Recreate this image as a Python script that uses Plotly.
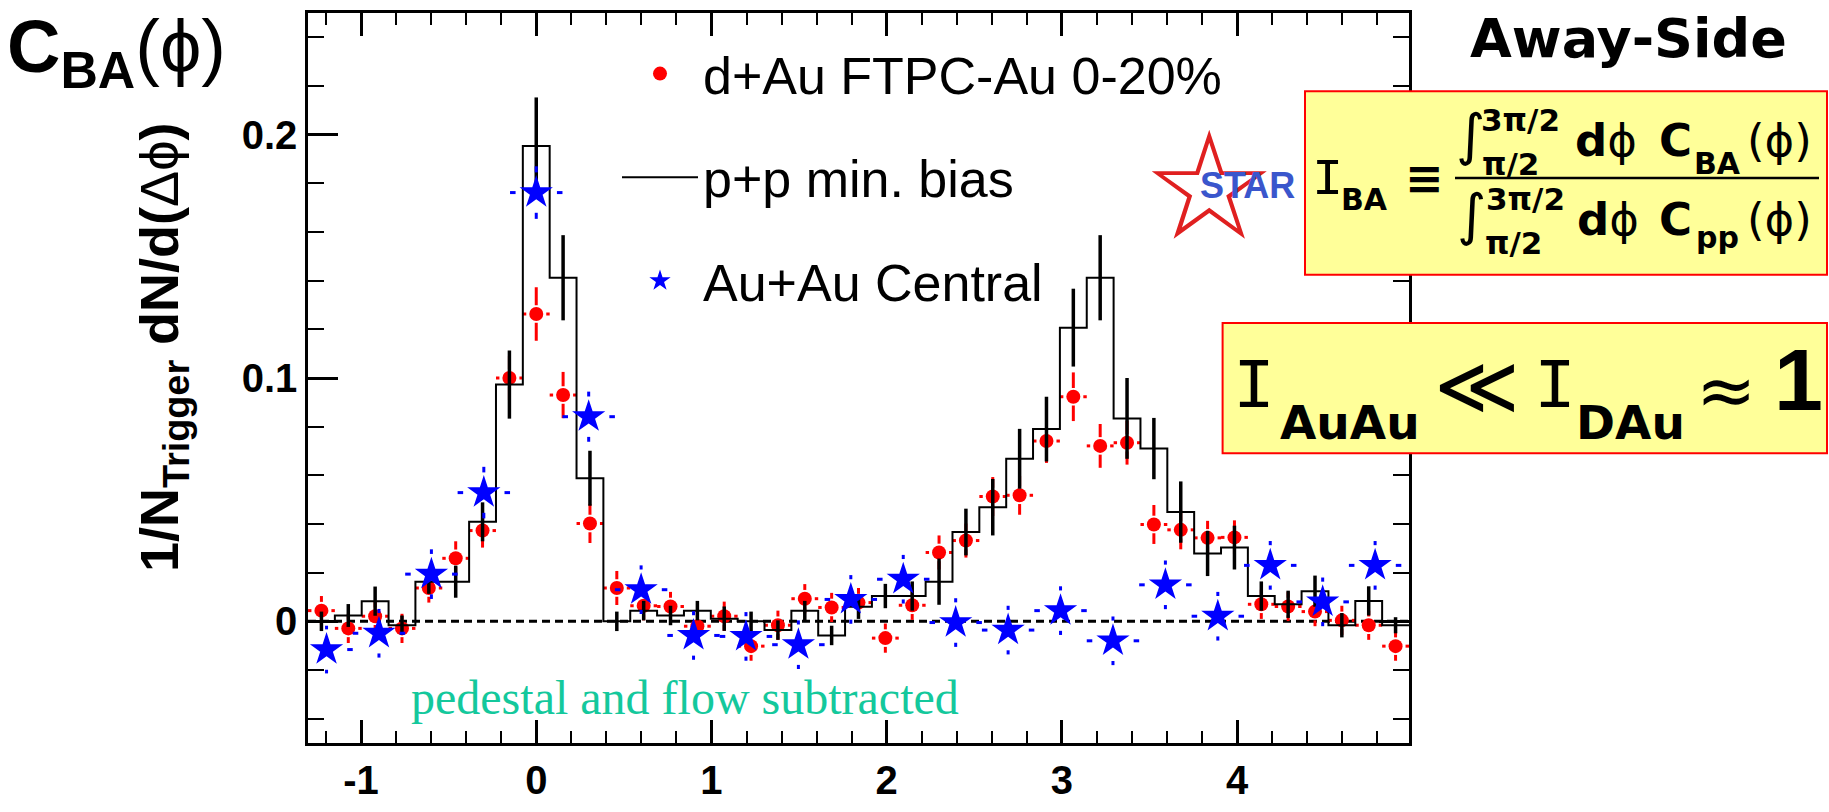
import numpy as np
import plotly.graph_objects as go

# ---------------- data ----------------
# d+Au FTPC-Au 0-20% (41 bins of width 2pi/41)
dau_phi = [-1.2260, -1.0727, -0.9195, -0.7662, -0.6130, -0.4597, -0.3065, -0.1532,
           0.0000, 0.1532, 0.3065, 0.4597, 0.6130, 0.7662, 0.9195, 1.0727,
           1.2260, 1.3792, 1.5325, 1.6857, 1.8390, 1.9922, 2.1455, 2.2987,
           2.4520, 2.6052, 2.7585, 2.9117, 3.0650, 3.2182, 3.3715, 3.5247,
           3.6780, 3.8312, 3.9845, 4.1377, 4.2909, 4.4442, 4.5974, 4.7507, 4.9039]
dau_y = [0.0044, -0.0029, 0.0021, -0.0029, 0.0137, 0.0259, 0.0373, 0.1000,
         0.1263, 0.0930, 0.0402, 0.0137, 0.0064, 0.0061, -0.0020, 0.0021,
         -0.0102, -0.0016, 0.0093, 0.0057, 0.0077, -0.0069, 0.0066, 0.0283,
         0.0332, 0.0513, 0.0518, 0.0741, 0.0923, 0.0721, 0.0734, 0.0398,
         0.0376, 0.0343, 0.0345, 0.0070, 0.0061, 0.0040, 0.0004, -0.0016, -0.0102]
dau_err = [0.006, 0.006, 0.006, 0.006, 0.006, 0.007, 0.007, 0.009,
           0.011, 0.0095, 0.008, 0.007, 0.006, 0.006, 0.006, 0.006,
           0.006, 0.006, 0.006, 0.006, 0.006, 0.006, 0.006, 0.007,
           0.007, 0.008, 0.008, 0.009, 0.010, 0.009, 0.009, 0.008,
           0.008, 0.007, 0.007, 0.006, 0.006, 0.006, 0.006, 0.006, 0.006]
dau_halfbin = 0.0766

# p+p min. bias histogram (same binning as d+Au)
pp_y = [0.0000, 0.0024, 0.0083, -0.0016, 0.0163, 0.0163, 0.0409, 0.0973,
        0.1953, 0.1412, 0.0588, 0.0000, 0.0044, 0.0024, 0.0044, 0.0011,
        0.0000, -0.0036, 0.0044, -0.0058, 0.0060, 0.0104, 0.0104, 0.0163,
        0.0367, 0.0469, 0.0668, 0.0790, 0.1207, 0.1412, 0.0834, 0.0710,
        0.0449, 0.0279, 0.0303, 0.0104, 0.0070, 0.0124, -0.0016, 0.0084, -0.0016]
pp_err = [0.004, 0.0047, 0.006, 0.004, 0.005, 0.0066, 0.008, 0.014,
          0.020, 0.0175, 0.0113, 0.004, 0.004, 0.004, 0.004, 0.005,
          0.004, 0.004, 0.004, 0.004, 0.005, 0.005, 0.006, 0.0095,
          0.0096, 0.0116, 0.0123, 0.0133, 0.016, 0.0175, 0.0166, 0.0126,
          0.0126, 0.0093, 0.009, 0.006, 0.0056, 0.0064, 0.005, 0.006, 0.0033]

# Au+Au central (21 bins of width 2pi/21)
auau_phi = [-1.1968, -0.8976, -0.5984, -0.2992, 0.0000, 0.2992, 0.5984, 0.8976,
            1.1968, 1.4960, 1.7952, 2.0944, 2.3936, 2.6928, 2.9920, 3.2912,
            3.5904, 3.8896, 4.1888, 4.4880, 4.7872]
auau_y = [-0.0116, -0.0049, 0.0194, 0.0529, 0.1762, 0.0841, 0.0130, -0.0058,
          -0.0062, -0.0096, 0.0090, 0.0173, -0.0005, -0.0036, 0.0044, -0.0080,
          0.0150, 0.0021, 0.0230, 0.0080, 0.0230]
auau_err = [0.0098, 0.0100, 0.0102, 0.0106, 0.0108, 0.0103, 0.0100, 0.0100,
            0.0100, 0.0100, 0.0100, 0.0100, 0.0100, 0.0100, 0.0100, 0.0100,
            0.0100, 0.0100, 0.0100, 0.0100, 0.0100]
auau_halfbin = 0.1496

x_tickvals = [-1, 0, 1, 2, 3, 4]
x_ticktext = ["-1", "0", "1", "2", "3", "4"]
y_tickvals = [0, 0.1, 0.2]
y_ticktext = ["0", "0.1", "0.2"]
x_range = [-1.3026, 4.9806]
y_range = [-0.05, 0.25]

# ---------------- geometry helpers ----------------
W, H = 1829, 812
ML, MR, MT, MB = 308, 420, 10, 46
PW, PH = W - ML - MR, H - MT - MB


def px(x):
    return (x - ML) / PW


def py(y):
    return (H - MB - y) / PH


def gapped_segments(xs, ys, ex, ey, gx, gy):
    """error-bar pieces drawn from the outer end toward the point, stopping at a gap"""
    sx, sy = [], []
    for x, y, e1, e2 in zip(xs, ys, ex, ey):
        if e1 > gx:
            sx += [x - e1, x - gx, None, x + e1, x + gx, None]
            sy += [y, y, None, y, y, None]
        if e2 > gy:
            sx += [x, x, None, x, x, None]
            sy += [y - e2, y - gy, None, y + e2, y + gy, None]
    return sx, sy


fig = go.Figure()

# red error bars + markers
rx, ry = gapped_segments(dau_phi, dau_y, [dau_halfbin] * len(dau_phi), dau_err, 0.057, 0.0036)
fig.add_trace(go.Scatter(x=rx, y=ry, mode="lines", line=dict(color="#ff0000", width=3),
                         showlegend=False, hoverinfo="skip", connectgaps=False))
fig.add_trace(go.Scatter(x=dau_phi, y=dau_y, mode="markers", name="d+Au FTPC-Au 0-20%",
                         legendgroup="a",
                         marker=dict(color="#ff0000", size=14, symbol="circle")))

# p+p histogram
hw = (x_range[1] - x_range[0]) / len(dau_phi) / 2
hx = [p - hw for p in dau_phi] + [dau_phi[-1] + hw]
hy = list(pp_y) + [pp_y[-1]]
fig.add_trace(go.Scatter(x=hx, y=hy, mode="lines", line_shape="hv", name="p+p min. bias",
                         legendgroup="b", line=dict(color="black", width=2)))
fig.add_trace(go.Scatter(x=dau_phi, y=pp_y, mode="markers", showlegend=False, hoverinfo="skip",
                         marker=dict(size=1, color="rgba(0,0,0,0)"),
                         error_y=dict(type="data", array=pp_err, thickness=3.5, width=0,
                                      color="black")))

# blue error bars + stars
bx, by = gapped_segments(auau_phi, auau_y, [auau_halfbin] * len(auau_phi), auau_err, 0.118, 0.0083)
fig.add_trace(go.Scatter(x=bx, y=by, mode="lines", line=dict(color="#0000ff", width=3),
                         showlegend=False, hoverinfo="skip", connectgaps=False))
fig.add_trace(go.Scatter(x=auau_phi, y=auau_y, mode="markers", name="Au+Au Central",
                         legendgroup="c",
                         marker=dict(color="#0000ff", size=25, symbol="star")))

axis_common = dict(showline=True, linewidth=2.5, linecolor="black", mirror="ticks",
                   showgrid=False, zeroline=False, ticks="inside", tickcolor="black",
                   tickwidth=2.5,
                   tickfont=dict(family="Liberation Sans", size=40, color="black", weight="bold"))

fig.update_layout(
    width=W, height=H,
    margin=dict(l=ML, r=MR, t=MT, b=MB, pad=0),
    paper_bgcolor="white", plot_bgcolor="white",
    xaxis=dict(range=x_range, tickmode="array", tickvals=x_tickvals, ticktext=x_ticktext,
               ticklen=23,
               minor=dict(dtick=0.2, tick0=0, ticks="inside", ticklen=12, tickwidth=2.2,
                          tickcolor="black"),
               **axis_common),
    yaxis=dict(range=y_range, tickmode="array", tickvals=y_tickvals, ticktext=y_ticktext,
               ticklen=30,
               minor=dict(dtick=0.02, tick0=0, ticks="inside", ticklen=16, tickwidth=2.2,
                          tickcolor="black"),
               **axis_common),
    showlegend=True,
    legend=dict(x=px(617), y=py(31), xanchor="left", yanchor="top",
                bgcolor="rgba(0,0,0,0)", borderwidth=0, itemwidth=76,
                traceorder="grouped", tracegroupgap=33,
                font=dict(family="Liberation Sans", size=52, color="black")),
)

# zero line
fig.add_shape(type="line", xref="paper", yref="y", x0=0, x1=1, y0=0, y1=0,
              line=dict(color="black", width=3, dash="8px,5px"), layer="below")

# yellow boxes and fraction bar
fig.add_shape(type="rect", xref="paper", yref="paper", x0=px(1305), x1=px(1827),
              y0=py(281), y1=py(91), fillcolor="#ffff99", line=dict(color="#ff0000", width=2),
              layer="above")
fig.add_shape(type="rect", xref="paper", yref="paper", x0=px(1222.6), x1=px(1827),
              y0=py(466), y1=py(331), fillcolor="#ffff99", line=dict(color="#ff0000", width=2),
              layer="above")
fig.add_shape(type="line", xref="paper", yref="paper", x0=px(1455), x1=px(1819),
              y0=py(181), y1=py(181), line=dict(color="black", width=2.5), layer="above")


def ann(text, x, y, size, family="Liberation Sans", color="black", xanchor="center",
        yanchor="middle", angle=0, weight="normal"):
    fig.add_annotation(text=text, x=px(x), y=py(y), xref="paper", yref="paper",
                       showarrow=False, xanchor=xanchor, yanchor=yanchor, textangle=angle,
                       borderpad=0,
                       font=dict(family=family, size=size, color=color, weight=weight))


SANS = "Liberation Sans, DejaVu Sans"
ann("<b>C<sub>BA</sub></b>(ϕ)", 6, 50, 74, family=SANS, xanchor="left")
ann("<b>1/N<sub>Trigger</sub> dN/d(</b>Δϕ<b>)</b>", 163, 357, 54, family=SANS, angle=-90)
ann("Away-Side", 1628, 36, 54, family="DejaVu Sans", weight="bold")
ann("pedestal and flow subtracted", 410, 719, 48, family="Liberation Serif",
    color="#14c89c", xanchor="left")

# STAR logo
ann("☆", 1209, 189, 150, family="DejaVu Sans", color="#e02020", weight="bold")
ann("STAR", 1247, 189, 36, color="#3a56cc", weight="bold")

# formula box 1
ann("I", 1327.5, 183, 52, family="Liberation Mono")
ann("BA", 1364, 203, 30, family="DejaVu Sans", weight="bold")
ann("≡", 1424, 181, 46, family="DejaVu Sans", weight="bold")
ann("∫", 1470, 136, 56, family="DejaVu Sans")
ann("3π/2", 1520, 121, 31, family="DejaVu Sans", weight="bold")
ann("π/2", 1510, 166, 31, family="DejaVu Sans", weight="bold")
ann("<b>d</b>ϕ", 1574, 142, 45, family="DejaVu Sans", xanchor="left")
ann("C", 1693, 142, 45, family="DejaVu Sans", weight="bold", xanchor="right")
ann("BA", 1693, 166, 30, family="DejaVu Sans", weight="bold", xanchor="left")
ann("(ϕ)", 1746, 142, 45, family="DejaVu Sans", xanchor="left")
ann("∫", 1471, 219, 56, family="DejaVu Sans")
ann("3π/2", 1525, 203, 31, family="DejaVu Sans", weight="bold")
ann("π/2", 1513, 248, 31, family="DejaVu Sans", weight="bold")
ann("<b>d</b>ϕ", 1576, 224, 45, family="DejaVu Sans", xanchor="left")
ann("C", 1693, 224, 45, family="DejaVu Sans", weight="bold", xanchor="right")
ann("pp", 1695, 242, 30, family="DejaVu Sans", weight="bold", xanchor="left")
ann("(ϕ)", 1746, 224, 45, family="DejaVu Sans", xanchor="left")

# formula box 2
ann("I", 1254, 399, 70, family="Liberation Mono")
ann("AuAu", 1279, 434, 47, family="DejaVu Sans", weight="bold", xanchor="left")
ann("≪", 1477, 396, 82, family="DejaVu Sans")
ann("I", 1555, 399, 70, family="Liberation Mono")
ann("DAu", 1575, 434, 47, family="DejaVu Sans", weight="bold", xanchor="left")
ann("≈", 1726, 400, 72, family="DejaVu Sans")
ann("1", 1798, 390, 88, weight="bold")

fig.write_html("out.html")
